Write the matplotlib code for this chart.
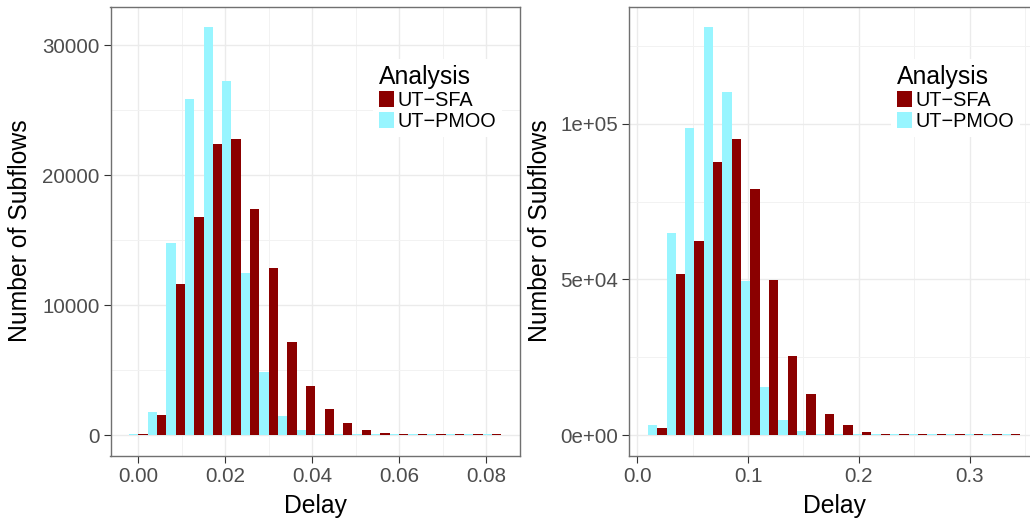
import numpy as np
import matplotlib
matplotlib.use("Agg")
import matplotlib.pyplot as plt
from matplotlib.patches import Patch
from matplotlib.ticker import FixedLocator, MultipleLocator

plt.rcParams['font.family'] = ['Liberation Sans', 'DejaVu Sans']

# ---------------- data ----------------
series_names = ["UT\u2212SFA", "UT\u2212PMOO"]
colors = {"UT\u2212SFA": "#8B0000", "UT\u2212PMOO": "#98F5FF"}

# left panel: 20 delay bins
left_binwidth = 0.00428
left_first_center = 0.0
left_sfa = [60, 1540, 11620, 16770, 22380, 22770, 17380, 12850, 7150, 3770,
            2000, 920, 380, 150, 80, 60, 60, 60, 60, 60]
left_pmoo = [60, 1770, 14770, 25850, 31380, 27230, 12460, 4850, 1460, 380,
             100, 60, 60, 60, 60, 60, 60, 60, 60, 60]
left_xticks = [0.00, 0.02, 0.04, 0.06, 0.08]
left_xticklabels = ["0.00", "0.02", "0.04", "0.06", "0.08"]
left_yticks = [0, 10000, 20000, 30000]
left_yticklabels = ["0", "10000", "20000", "30000"]

# right panel: 20 delay bins
right_binwidth = 0.0168
right_first_center = 0.0181
right_sfa = [2250, 51700, 62200, 87600, 95000, 78900, 49700, 25300, 13200, 6700,
             3200, 960, 320, 200, 200, 200, 200, 200, 200, 200]
right_pmoo = [3200, 64800, 98500, 130900, 110000, 49400, 15400, 4800, 1300, 300,
              200, 200, 200, 200, 200, 200, 200, 200, 200, 200]
right_xticks = [0.0, 0.1, 0.2, 0.3]
right_xticklabels = ["0.0", "0.1", "0.2", "0.3"]
right_yticks = [0, 50000, 100000]
right_yticklabels = ["0e+00", "5e+04", "1e+05"]

xlabel = "Delay"
ylabel = "Number of Subflows"
legend_title = "Analysis"

# ---------------- figure ----------------
W, H = 1030, 519
fig = plt.figure(figsize=(W / 100, H / 100), dpi=100)

def px_rect(x0, x1, ytop, ybot):
    return [x0 / W, 1 - ybot / H, (x1 - x0) / W, (ybot - ytop) / H]

ax_l = fig.add_axes(px_rect(110.5, 520, 7, 455.5))
ax_r = fig.add_axes(px_rect(629.3, 1039, 7, 455.5))

TICK_FS = 14.8
LAB_FS = 17.8

def draw_panel(ax, first_center, bw, sfa, pmoo, xticks, xtl, yticks, ytl, minor_x, minor_y):
    n = len(sfa)
    centers = first_center + bw * np.arange(n)
    ax.bar(centers - bw / 4, pmoo, width=bw / 2, color=colors["UT\u2212PMOO"], linewidth=0)
    ax.bar(centers + bw / 4, sfa, width=bw / 2, color=colors["UT\u2212SFA"], linewidth=0)
    lo = centers[0] - bw / 2
    hi = centers[-1] + bw / 2
    rng = hi - lo
    ax.set_xlim(lo - 0.05 * rng, hi + 0.05 * rng)
    ymax = max(max(sfa), max(pmoo))
    ax.set_ylim(-0.05 * ymax, 1.05 * ymax)
    ax.xaxis.set_major_locator(FixedLocator(xticks))
    ax.set_xticklabels(xtl)
    ax.yaxis.set_major_locator(FixedLocator(yticks))
    ax.set_yticklabels(ytl)
    ax.xaxis.set_minor_locator(MultipleLocator(minor_x))
    ax.yaxis.set_minor_locator(MultipleLocator(minor_y))
    ax.set_axisbelow(True)
    ax.grid(True, which='major', color='#EBEBEB', linewidth=1.0)
    ax.grid(True, which='minor', color='#F2F2F2', linewidth=0.7)
    ax.tick_params(which='major', length=5, width=0.8, color='#333333',
                   labelsize=TICK_FS, labelcolor='#4D4D4D', pad=3)
    ax.tick_params(which='minor', length=0)
    for s in ax.spines.values():
        s.set_color('#707070')
        s.set_linewidth(1.0)
    handles = [Patch(facecolor=colors[nm], edgecolor='none') for nm in series_names]
    return handles

h = draw_panel(ax_l, left_first_center, left_binwidth, left_sfa, left_pmoo,
               left_xticks, left_xticklabels, left_yticks, left_yticklabels, 0.01, 5000)
draw_panel(ax_r, right_first_center, right_binwidth, right_sfa, right_pmoo,
           right_xticks, right_xticklabels, right_yticks, right_yticklabels, 0.05, 25000)

for ax, lx, tx in [(ax_l, 373, 20), (ax_r, 891, 540)]:
    leg = ax.legend(h, series_names, title=legend_title, loc='upper left',
                    bbox_to_anchor=(lx / W, 1 - 59 / H), bbox_transform=fig.transFigure,
                    fontsize=14.3, title_fontsize=17.8, frameon=True, fancybox=False,
                    framealpha=1.0, edgecolor='white', facecolor='white',
                    handlelength=0.75, handleheight=0.8, handletextpad=0.2,
                    labelspacing=0.1, borderpad=0.3, borderaxespad=0,
                    alignment='left')
    leg.get_frame().set_linewidth(0)
    # axis titles
    bb = ax.get_position()
    fig.text((bb.x0 + bb.x1) / 2, 1 - 513 / H, xlabel, ha='center', va='baseline',
             fontsize=LAB_FS, color='black')
    fig.text(tx / W, 1 - 231 / H, ylabel, ha='center', va='center', rotation=90,
             fontsize=LAB_FS, color='black')

fig.savefig("out.png", dpi=100)
